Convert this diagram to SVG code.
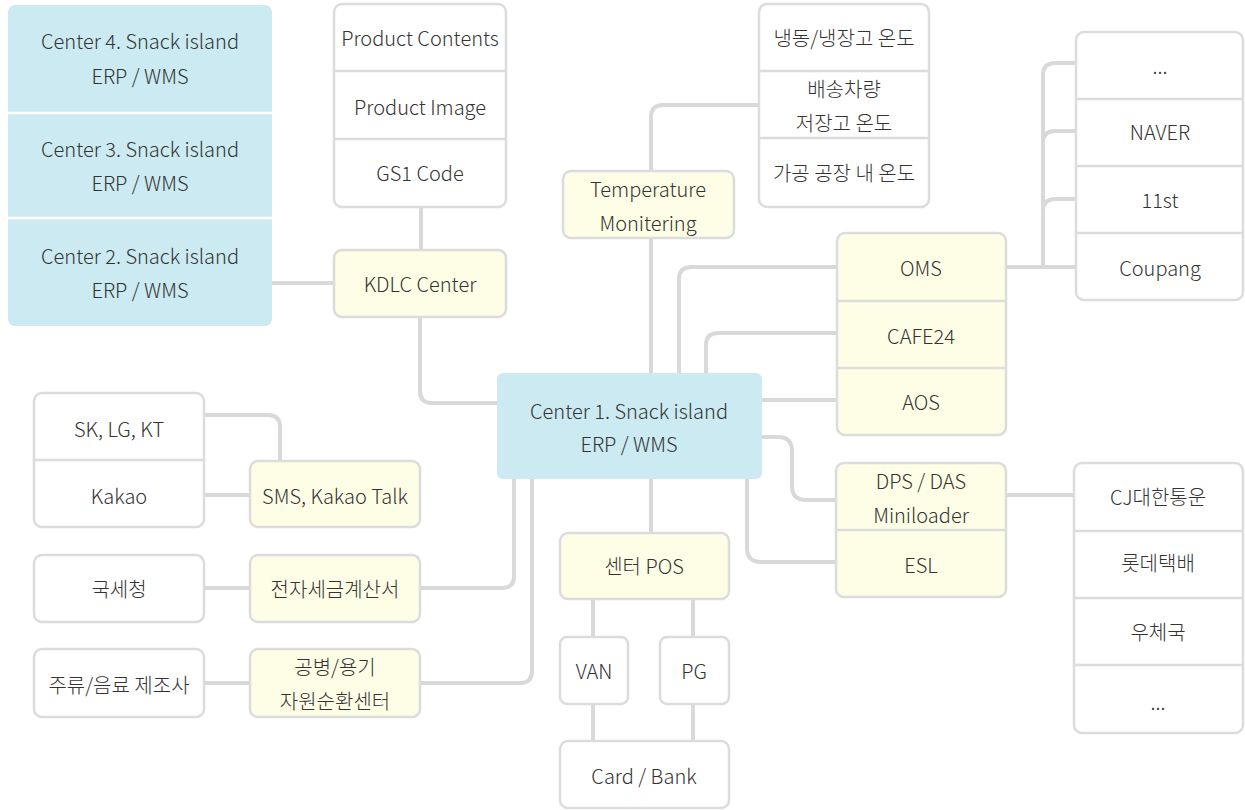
<svg xmlns="http://www.w3.org/2000/svg" width="1245" height="810" viewBox="0 0 1245 810">
<style>
.c{fill:none;stroke:#d9d9d9;stroke-width:4}
.w{fill:#ffffff;stroke:#dcdcdc;stroke-width:2.5}
.y{fill:#fefee6;stroke:#dcdcdc;stroke-width:2.5}
.b{fill:#cbeaf1;stroke:none}
.s{stroke:#dcdcdc;stroke-width:2.5}
.ws{stroke:#ffffff;stroke-width:2.5}
text{font-family:"Noto Sans CJK KR","Noto Sans",sans-serif;font-size:20px;font-weight:300;fill:#333333;text-anchor:middle;dominant-baseline:central}
</style>
<rect width="1245" height="810" fill="#ffffff"/>
<g id="connectors">
<path class="c" d="M421 207 V250"/>
<path class="c" d="M272 283 H334"/>
<path class="c" d="M420 317 V391 Q420 403 432 403 H497"/>
<path class="c" d="M651 171 V117 Q651 105 663 105 H759"/>
<path class="c" d="M651 238 V373"/>
<path class="c" d="M837 267 H691 Q679 267 679 279 V373"/>
<path class="c" d="M837 333 H718 Q706 333 706 345 V373"/>
<path class="c" d="M761 400 H837"/>
<path class="c" d="M1006 267 H1076"/>
<path class="c" d="M1043 267 V75 Q1043 63 1055 63 H1076"/>
<path class="c" d="M1043 143 Q1043 131 1055 131 H1076"/>
<path class="c" d="M1043 211 Q1043 199 1055 199 H1076"/>
<path class="c" d="M761 437 H778 Q792 437 792 451 V486 Q792 500 806 500 H836"/>
<path class="c" d="M747 479 V548 Q747 562 761 562 H836"/>
<path class="c" d="M651 479 V533"/>
<path class="c" d="M593 599 V637"/>
<path class="c" d="M593 704 V741"/>
<path class="c" d="M693 599 V637"/>
<path class="c" d="M693 704 V741"/>
<path class="c" d="M1006 495 H1074"/>
<path class="c" d="M204 415 H268 Q280 415 280 427 V461"/>
<path class="c" d="M204 495 H250"/>
<path class="c" d="M204 588 H250"/>
<path class="c" d="M204 683 H250"/>
<path class="c" d="M420 588 H502 Q514 588 514 576 V479"/>
<path class="c" d="M420 683 H520 Q532 683 532 671 V479"/>
</g>
<g id="centers-2-4">
<rect class="b" x="8" y="5" width="264" height="321" rx="7"/>
<line class="ws" x1="8" y1="113" x2="272" y2="113"/>
<line class="ws" x1="8" y1="218" x2="272" y2="218"/>
<text x="140" y="40">Center 4. Snack island</text>
<text x="140" y="75">ERP / WMS</text>
<text x="140" y="148">Center 3. Snack island</text>
<text x="140" y="182">ERP / WMS</text>
<text x="140" y="255">Center 2. Snack island</text>
<text x="140" y="289">ERP / WMS</text>
</g>
<g id="product">
<rect class="w" x="334" y="4" width="172" height="203" rx="8"/>
<line class="s" x1="334" y1="71" x2="506" y2="71"/>
<line class="s" x1="334" y1="139" x2="506" y2="139"/>
<text x="420" y="37">Product Contents</text>
<text x="420" y="106">Product Image</text>
<text x="420" y="172">GS1 Code</text>
</g>
<g id="kdlc">
<rect class="y" x="334" y="250" width="172" height="67" rx="8"/>
<text x="420" y="283">KDLC Center</text>
</g>
<g id="sensors">
<rect class="w" x="759" y="4" width="170" height="203" rx="8"/>
<line class="s" x1="759" y1="71" x2="929" y2="71"/>
<line class="s" x1="759" y1="138" x2="929" y2="138"/>
<text x="844" y="37">냉동/냉장고 온도</text>
<text x="844" y="88">배송차량</text>
<text x="844" y="122">저장고 온도</text>
<text x="844" y="172">가공 공장 내 온도</text>
</g>
<g id="temperature">
<rect class="y" x="563" y="171" width="171" height="67" rx="8"/>
<text x="648" y="188">Temperature</text>
<text x="648" y="222">Monitering</text>
</g>
<g id="markets">
<rect class="w" x="1076" y="32" width="167" height="268" rx="8"/>
<line class="s" x1="1076" y1="99" x2="1243" y2="99"/>
<line class="s" x1="1076" y1="166" x2="1243" y2="166"/>
<line class="s" x1="1076" y1="233" x2="1243" y2="233"/>
<text x="1160" y="65">...</text>
<text x="1160" y="131">NAVER</text>
<text x="1160" y="199">11st</text>
<text x="1160" y="267">Coupang</text>
</g>
<g id="oms">
<rect class="y" x="837" y="233" width="169" height="202" rx="8"/>
<line class="s" x1="837" y1="301" x2="1006" y2="301"/>
<line class="s" x1="837" y1="368" x2="1006" y2="368"/>
<text x="921" y="267">OMS</text>
<text x="921" y="335">CAFE24</text>
<text x="921" y="401">AOS</text>
</g>
<g id="center1">
<rect class="b" x="497" y="373" width="265" height="106" rx="6"/>
<text x="629" y="410">Center 1. Snack island</text>
<text x="629" y="443">ERP / WMS</text>
</g>
<g id="dps">
<rect class="y" x="836" y="463" width="170" height="134" rx="8"/>
<line class="s" x1="836" y1="530" x2="1006" y2="530"/>
<text x="921" y="480">DPS / DAS</text>
<text x="921" y="514">Miniloader</text>
<text x="921" y="564">ESL</text>
</g>
<g id="couriers">
<rect class="w" x="1074" y="463" width="169" height="270" rx="8"/>
<line class="s" x1="1074" y1="531" x2="1243" y2="531"/>
<line class="s" x1="1074" y1="598" x2="1243" y2="598"/>
<line class="s" x1="1074" y1="665" x2="1243" y2="665"/>
<text x="1158" y="496">CJ대한통운</text>
<text x="1158" y="562">롯데택배</text>
<text x="1158" y="631">우체국</text>
<text x="1158" y="701">...</text>
</g>
<g id="pos">
<rect class="y" x="560" y="533" width="169" height="66" rx="8"/>
<text x="644" y="565">센터 POS</text>
</g>
<g id="van">
<rect class="w" x="560" y="637" width="68" height="67" rx="7"/>
<text x="594" y="670">VAN</text>
</g>
<g id="pg">
<rect class="w" x="660" y="637" width="69" height="67" rx="7"/>
<text x="694" y="670">PG</text>
</g>
<g id="card">
<rect class="w" x="560" y="741" width="169" height="67" rx="8"/>
<text x="644" y="775">Card / Bank</text>
</g>
<g id="telecom">
<rect class="w" x="34" y="393" width="170" height="134" rx="8"/>
<line class="s" x1="34" y1="460" x2="204" y2="460"/>
<text x="119" y="428">SK, LG, KT</text>
<text x="119" y="495">Kakao</text>
</g>
<g id="sms">
<rect class="y" x="250" y="461" width="170" height="66" rx="8"/>
<text x="335" y="495">SMS, Kakao Talk</text>
</g>
<g id="nts">
<rect class="w" x="34" y="555" width="170" height="67" rx="8"/>
<text x="119" y="588">국세청</text>
</g>
<g id="etax">
<rect class="y" x="250" y="555" width="170" height="67" rx="8"/>
<text x="335" y="588">전자세금계산서</text>
</g>
<g id="maker">
<rect class="w" x="34" y="649" width="170" height="68" rx="8"/>
<text x="119" y="684">주류/음료 제조사</text>
</g>
<g id="bottle">
<rect class="y" x="250" y="649" width="170" height="68" rx="8"/>
<text x="335" y="666">공병/용기</text>
<text x="335" y="700">자원순환센터</text>
</g>
</svg>
